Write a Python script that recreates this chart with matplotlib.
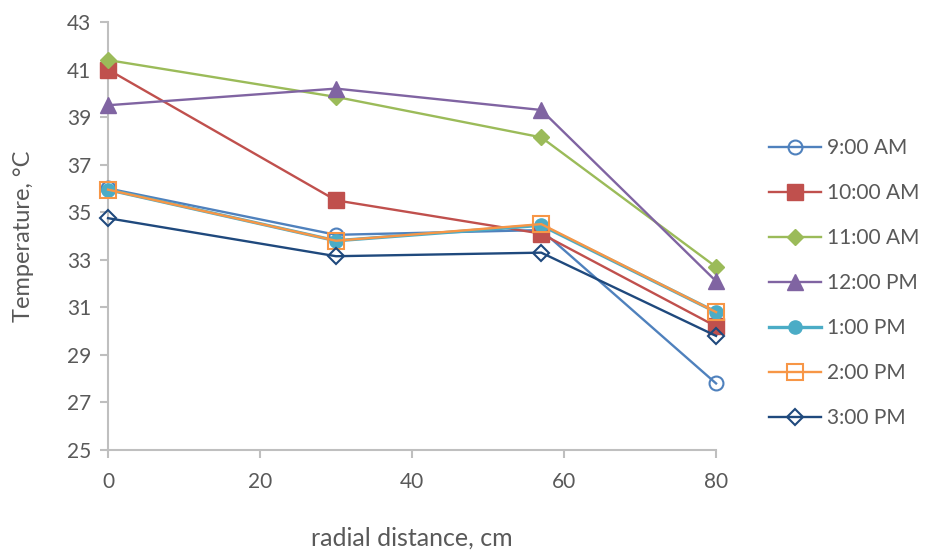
import numpy as np
import matplotlib.pyplot as plt

plt.rcParams['font.family'] = ['Lato', 'DejaVu Sans']

radial = [0, 30, 57, 80]
times = ['9:00 AM', '10:00 AM', '11:00 AM', '12:00 PM', '1:00 PM', '2:00 PM', '3:00 PM']
t_9am = [36.0, 34.05, 34.25, 27.8]
t_10am = [41.0, 35.5, 34.1, 30.2]
t_11am = [41.4, 39.85, 38.15, 32.7]
t_12pm = [39.5, 40.2, 39.3, 32.1]
t_1pm = [35.95, 33.8, 34.45, 30.8]
t_2pm = [35.95, 33.8, 34.5, 30.8]
t_3pm = [34.75, 33.15, 33.3, 29.8]

series = [t_9am, t_10am, t_11am, t_12pm, t_1pm, t_2pm, t_3pm]
colors = ['#4F81BD', '#C0504D', '#9BBB59', '#8064A2', '#4BACC6', '#F79646', '#1F497D']
markers = ['o', 's', 'D', '^', 'o', 's', 'D']
sizes = [10, 11, 8, 11, 9.5, 11, 8]
hollow = [True, False, False, False, False, True, True]
widths = [1.7, 1.7, 1.7, 1.7, 2.4, 1.7, 1.7]

fig = plt.figure(figsize=(9.25, 5.52), dpi=100)
ax = fig.add_axes([0.1168, 0.1848, 0.6573, 0.7753])

# open markers are see-through, like in the original sheet
for vals, lab, c, m, s, h, w in zip(series, times, colors, markers, sizes, hollow, widths):
    ax.plot(radial, vals, color=c, marker=m, markersize=s, linewidth=w,
            markerfacecolor='none' if h else c, markeredgecolor=c,
            markeredgewidth=1.5 if h else 1, label=lab, clip_on=False, zorder=3)

ax.set_xlim(0, 80)
ax.set_ylim(25, 43)
ax.set_xticks([0, 20, 40, 60, 80])
ax.set_yticks(np.arange(25, 44, 2))
for sp in ['top', 'right']:
    ax.spines[sp].set_visible(False)
for sp in ['left', 'bottom']:
    ax.spines[sp].set_color('#BFBFBF')
    ax.spines[sp].set_linewidth(1.5)
ax.tick_params(axis='both', colors='#BFBFBF', labelcolor='#595959', labelsize=15,
               length=6, width=1.5)
ax.tick_params(axis='x', pad=10)
ax.tick_params(axis='y', pad=6)

ax.set_xlabel('radial distance, cm', fontsize=18, color='#595959', labelpad=25)
ax.set_ylabel('Temperature, °C', fontsize=17, color='#595959', labelpad=24)

leg = ax.legend(loc='center left', frameon=False, fontsize=15, labelcolor='#595959',
                labelspacing=1.2, handlelength=2.5, handletextpad=0.3,
                borderpad=0, borderaxespad=0)
leg.set_bbox_to_anchor((1.087, 0.39), transform=ax.transAxes)

fig.savefig('out.png', dpi=100)
